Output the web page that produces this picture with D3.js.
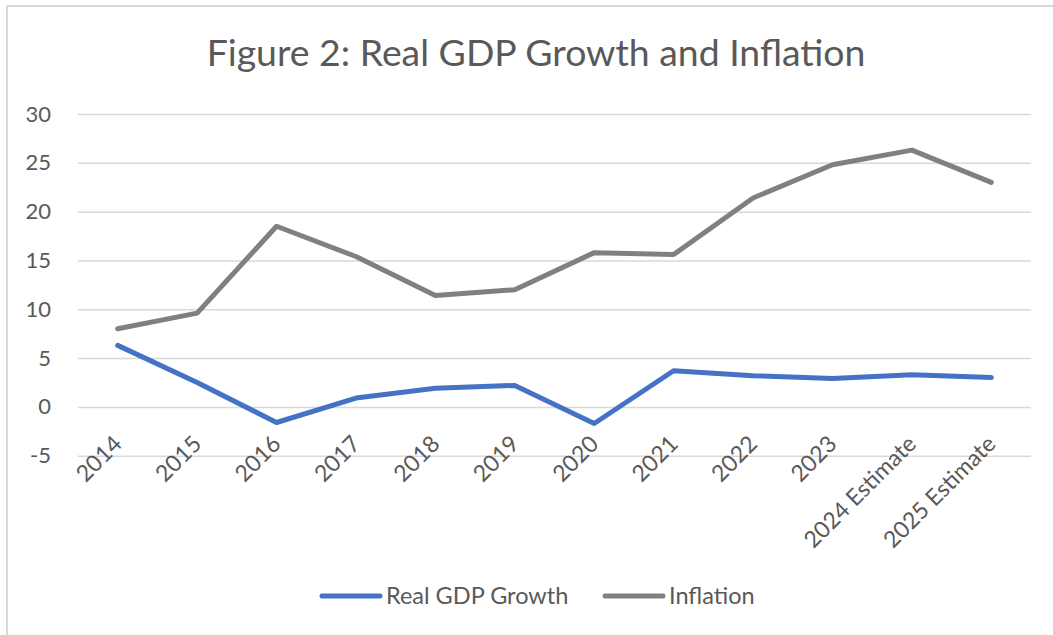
<!DOCTYPE html>
<html>
<head>
<meta charset="utf-8">
<script src="https://cdn.jsdelivr.net/npm/d3@7"></script>
<style>
  html, body { margin: 0; padding: 0; background: #fff; }
  svg { display: block; }
  text { font-family: Lato, "Open Sans", sans-serif; fill: #595959; }
</style>
</head>
<body>
<svg id="chart" width="1053" height="635"></svg>
<script>
// Categories and series values
const categories = ["2014", "2015", "2016", "2017", "2018", "2019", "2020", "2021", "2022", "2023", "2024 Estimate", "2025 Estimate"];
const realGdpGrowth = [6.3, 2.5, -1.6, 0.9, 1.9, 2.2, -1.7, 3.7, 3.2, 2.9, 3.3, 3.0];
const inflation = [8.0, 9.6, 18.5, 15.4, 11.4, 12.0, 15.8, 15.6, 21.4, 24.8, 26.3, 23.0];
const yTicks = [-5, 0, 5, 10, 15, 20, 25, 30];
const seriesNames = ["Real GDP Growth", "Inflation"];
const seriesColors = ["#4472C4", "#808080"];

const svg = d3.select("#chart");
const W = 1053, H = 635;
const plot = { left: 78, right: 1031, top: 114, bottom: 455.7 };

// Chart frame (top and left edges visible)
svg.append("line").attr("x1", 7).attr("x2", W).attr("y1", 6).attr("y2", 6)
  .attr("stroke", "#d9d9d9").attr("stroke-width", 2);
svg.append("line").attr("x1", 7).attr("x2", 7).attr("y1", 6).attr("y2", H)
  .attr("stroke", "#d9d9d9").attr("stroke-width", 2);

// Title
const title = svg.append("text")
  .attr("x", 536).attr("y", 66)
  .attr("text-anchor", "middle")
  .attr("font-size", 34)
  .text("Figure 2: Real GDP Growth and Inflation");
const tw = title.node().getComputedTextLength();
title.attr("font-size", 34 * 659 / tw);

const x = d3.scaleBand().domain(categories).range([plot.left, plot.right]);
const y = d3.scaleLinear().domain([-5, 30]).range([plot.bottom, plot.top]);

// Gridlines and y labels
const yAxis = d3.axisLeft(y).tickValues(yTicks).tickFormat(d => String(d))
  .tickSize(-(plot.right - plot.left)).tickPadding(27);
const gy = svg.append("g").attr("transform", `translate(${plot.left},0)`).call(yAxis);
gy.select(".domain").remove();
gy.selectAll(".tick line").attr("stroke", "#d9d9d9").attr("stroke-width", 1.5);
gy.selectAll(".tick text").attr("font-size", 22).attr("fill", "#595959")
  .style("font-family", "Lato, 'Open Sans', sans-serif");

// Category labels, rotated
const xAxis = d3.axisBottom(x).tickSize(0).tickPadding(0);
const gx = svg.append("g").attr("transform", `translate(0,${plot.bottom})`).call(xAxis);
gx.select(".domain").remove();
gx.selectAll(".tick text")
  .attr("font-size", 23).attr("fill", "#595959")
  .style("font-family", "Lato, 'Open Sans', sans-serif")
  .attr("text-anchor", "end")
  .attr("dy", "0.35em")
  .attr("transform", "translate(0,-16) rotate(-45)");

// Lines
const line = d3.line()
  .x((d, i) => x(categories[i]) + x.bandwidth() / 2)
  .y(d => y(d));
[realGdpGrowth, inflation].forEach((vals, k) => {
  svg.append("path")
    .datum(vals)
    .attr("d", line)
    .attr("fill", "none")
    .attr("stroke", seriesColors[k])
    .attr("stroke-width", 5)
    .attr("stroke-linejoin", "round")
    .attr("stroke-linecap", "round");
});

// Legend
const legendX = [322, 605];
seriesNames.forEach((name, k) => {
  const g = svg.append("g").attr("transform", `translate(${legendX[k]},596)`);
  g.append("line").attr("x1", 0).attr("x2", 58).attr("y1", 0).attr("y2", 0)
    .attr("stroke", seriesColors[k]).attr("stroke-width", 5).attr("stroke-linecap", "round");
  g.append("text").attr("x", 64).attr("y", 8).attr("font-size", 23.5).text(name);
});
</script>
</body>
</html>
